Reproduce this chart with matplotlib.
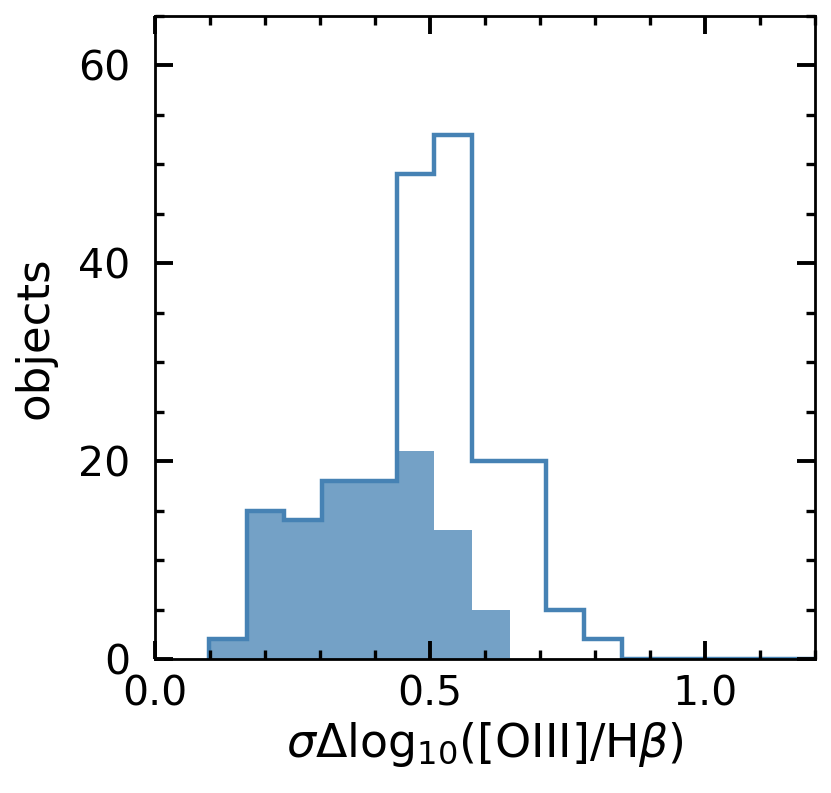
#!/usr/bin/env python3
"""Histogram of sigma Delta log10([OIII]/Hbeta): all objects (outline) and subset (filled)."""
from __future__ import annotations

import matplotlib

matplotlib.use("Agg")
import matplotlib.pyplot as plt
from matplotlib.ticker import MultipleLocator

# bin edges (width ~0.068)
bin_edges = [0.099, 0.167, 0.235, 0.304, 0.372, 0.440, 0.508, 0.576,
             0.645, 0.711, 0.780, 0.849, 0.917, 0.986, 1.054, 1.122,
             1.190, 1.259]
# all objects (step outline)
counts_all = [2, 15, 14, 18, 18, 49, 53, 20, 20, 5, 2, 0, 0, 0, 0, 0, 0]
# subset (filled)
counts_sub = [2, 15, 14, 18, 18, 21, 13, 5, 0, 0, 0, 0, 0, 0, 0, 0, 0]

x_label = r"$\sigma\Delta\log_{10}\!(\mathrm{[OIII]/H}\beta)$"
y_label = "objects"


def main() -> None:
    fig = plt.figure(figsize=(8.31, 7.93), dpi=100)
    ax = fig.add_axes([0.1865, 0.169, 0.7942, 0.8108])

    ax.stairs(counts_sub, bin_edges, fill=True, color="steelblue",
              alpha=0.75, linewidth=0)
    ax.stairs(counts_all, bin_edges, baseline=0, color="steelblue",
              linewidth=3.2)

    ax.set_xlim(0, 1.2)
    ax.set_ylim(0, 65)
    ax.xaxis.set_major_locator(MultipleLocator(0.5))
    ax.xaxis.set_minor_locator(MultipleLocator(0.1))
    ax.yaxis.set_major_locator(MultipleLocator(20))
    ax.yaxis.set_minor_locator(MultipleLocator(5))

    ax.tick_params(which="both", direction="in", top=True, right=True)
    ax.tick_params(which="major", length=13, width=2.8, labelsize=29.5)
    ax.tick_params(which="minor", length=6.5, width=2.4)
    ax.tick_params(axis="x", which="major", pad=11)
    ax.tick_params(axis="y", which="major", pad=18)
    for sp in ax.spines.values():
        sp.set_linewidth(2.0)

    ax.set_xlabel(x_label, fontsize=33, labelpad=4)
    ax.set_ylabel(y_label, fontsize=32.5, labelpad=15)

    fig.savefig("out.png", dpi=100)
    plt.close(fig)


if __name__ == "__main__":
    main()
